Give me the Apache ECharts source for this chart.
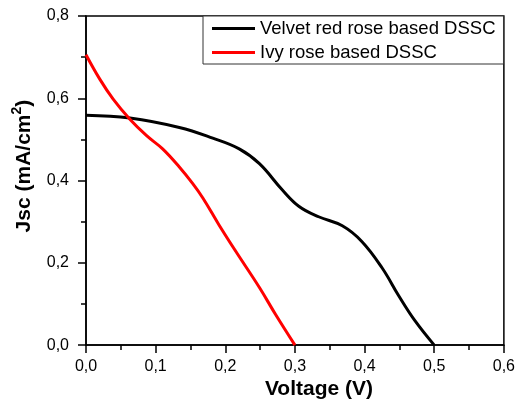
<!DOCTYPE html>
<html>
<head>
<meta charset="utf-8">
<script src="https://cdn.jsdelivr.net/npm/echarts@6/dist/echarts.min.js"></script>
<style>
html,body{margin:0;padding:0;background:#fff;}
#chart{width:518px;height:405px;}
</style>
</head>
<body>
<div id="chart"></div>
<script>
// Data
var seriesNames = ['Velvet red rose based DSSC', 'Ivy rose based DSSC'];
var velvetV = [0.000, 0.063, 0.134, 0.182, 0.220, 0.249, 0.282, 0.306, 0.334, 0.368, 0.396, 0.425, 0.449, 0.472, 0.500];
var velvetJ = [0.559, 0.552, 0.529, 0.503, 0.477, 0.441, 0.377, 0.337, 0.312, 0.290, 0.252, 0.188, 0.120, 0.060, 0.000];
var ivyV = [0.000, 0.020, 0.039, 0.063, 0.087, 0.110, 0.134, 0.153, 0.168, 0.191, 0.215, 0.249, 0.272, 0.300];
var ivyJ = [0.706, 0.646, 0.598, 0.549, 0.509, 0.477, 0.433, 0.393, 0.357, 0.292, 0.228, 0.140, 0.075, 0.000];
var xTickLabels = ['0,0', '0,1', '0,2', '0,3', '0,4', '0,5', '0,6'];
var yTickLabels = ['0,0', '0,2', '0,4', '0,6', '0,8'];
var xTitle = 'Voltage (V)';
var yTitle = 'Jsc (mA/cm';

function pairs(xs, ys) { return xs.map(function (x, i) { return [x, ys[i]]; }); }

var font = 'Liberation Sans, Arial, sans-serif';
var chart = echarts.init(document.getElementById('chart'), null, { renderer: 'canvas' });
chart.setOption({
  backgroundColor: '#ffffff',
  animation: false,
  grid: { left: 86, right: 12, top: 16, bottom: 57, show: true, borderColor: '#000', borderWidth: 1.5, backgroundColor: 'transparent' },
  legend: {
    orient: 'vertical', left: 203, top: 16,
    data: seriesNames,
    icon: 'rect', itemWidth: 43, itemHeight: 3, itemGap: 5, itemStyle: { borderWidth: 0 },
    textStyle: { fontFamily: font, fontSize: 18.5, color: '#000', padding: [0, 0, 0, 0] },
    borderColor: '#333', borderWidth: 1, padding: [3, 8, 2, 9],
    backgroundColor: '#fff'
  },
  xAxis: {
    type: 'value', min: 0, max: 0.6, interval: 0.1,
    name: xTitle, nameLocation: 'middle', nameGap: 33,
    nameTextStyle: { fontFamily: font, fontSize: 21, fontWeight: 'bold', color: '#000', padding: [0, 0, 0, 48] },
    axisLine: { lineStyle: { color: '#000', width: 1.5 } },
    axisTick: { length: 8, lineStyle: { color: '#000', width: 1.5 } },
    minorTick: { show: true, splitNumber: 2, length: 5, lineStyle: { color: '#000', width: 1.5 } },
    splitLine: { show: false },
    axisLabel: { fontFamily: font, fontSize: 16, color: '#000', margin: 13,
      formatter: function (v) { return xTickLabels[Math.round(v / 0.1)]; } }
  },
  yAxis: {
    type: 'value', min: 0, max: 0.8, interval: 0.2,
    name: '{a|' + yTitle + '}{s|2}{a|)}', nameLocation: 'middle', nameGap: 48, nameRotate: 90,
    nameTextStyle: { fontFamily: font, fontSize: 21, fontWeight: 'bold', color: '#000', padding: [0, 0, 0, 29],
      rich: {
        a: { fontFamily: font, fontSize: 21, fontWeight: 'bold', color: '#000' },
        s: { fontFamily: font, fontSize: 14, fontWeight: 'bold', color: '#000', verticalAlign: 'top', padding: [0, 0, 14, 0] }
      } },
    axisLine: { lineStyle: { color: '#000', width: 1.5 } },
    axisTick: { length: 8, lineStyle: { color: '#000', width: 1.5 } },
    minorTick: { show: true, splitNumber: 2, length: 5, lineStyle: { color: '#000', width: 1.5 } },
    splitLine: { show: false },
    axisLabel: { fontFamily: font, fontSize: 16, color: '#000', margin: 17,
      formatter: function (v) { return yTickLabels[Math.round(v / 0.2)]; } }
  },
  series: [
    { name: seriesNames[0], type: 'line', data: pairs(velvetV, velvetJ), smooth: 0.4, showSymbol: false,
      lineStyle: { color: '#000000', width: 3 }, itemStyle: { color: '#000000' } },
    { name: seriesNames[1], type: 'line', data: pairs(ivyV, ivyJ), smooth: 0.4, showSymbol: false,
      lineStyle: { color: '#ff0000', width: 3 }, itemStyle: { color: '#ff0000' } }
  ]
});
</script>
</body>
</html>
